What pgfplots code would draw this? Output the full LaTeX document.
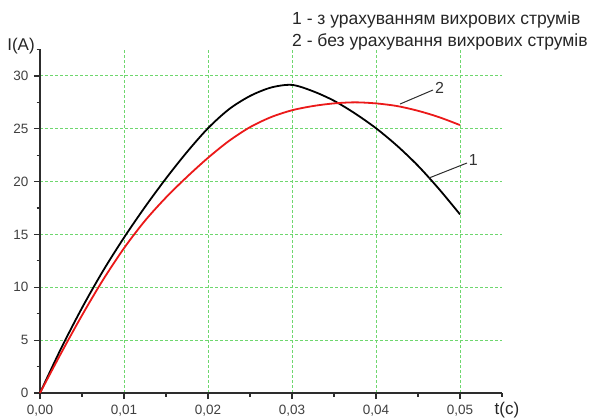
\documentclass[border=0pt]{standalone}
\usepackage{pgfplots}
\pgfplotsset{compat=1.18}
\usepackage{fontspec}
\setmainfont{Liberation Sans}
\definecolor{gridgreen}{RGB}{110,215,110}
\definecolor{curvered}{RGB}{235,25,25}
\definecolor{axisgray}{RGB}{45,45,45}
\begin{document}
\begin{tikzpicture}
\useasboundingbox (0,0) rectangle (592bp,419bp);
\begin{axis}[
  at={(40bp,26bp)}, anchor=south west,
  scale only axis, width=462bp, height=343.5bp,
  xmin=0, xmax=0.055, ymin=0, ymax=32.5,
  axis x line*=bottom, axis y line*=left,
  axis line style={-, line width=1.6bp, color=axisgray},
  xtick={0,0.01,0.02,0.03,0.04,0.05},
  minor xtick={0.005,0.015,0.025,0.035,0.045,0.055},
  ytick={0,5,10,15,20,25,30},
  minor ytick={2.5,7.5,12.5,17.5,22.5,27.5,32.5},
  tick align=outside,
  major tick length=6bp, minor tick length=3.5bp,
  every tick/.style={line width=1.2bp, color=axisgray},
  grid=major,
  major grid style={draw=gridgreen, line width=0.9bp, dash pattern=on 2.5bp off 2.5bp},
  /pgf/number format/assume math mode=true,
  tick label style={font=\fontsize{13.5bp}{16bp}\selectfont, text=black!75},
  x tick label style={yshift=-3bp, /pgf/number format/fixed, /pgf/number format/fixed zerofill, /pgf/number format/precision=2, /pgf/number format/use comma},
  y tick label style={xshift=-2bp, /pgf/number format/fixed, /pgf/number format/precision=0},
  scaled x ticks=false,
  clip=false,
]
\addplot[black, line width=1.8bp, smooth] coordinates {
(0,0) (0.0025,4.2) (0.005,8.05) (0.0075,11.55) (0.01,14.7) (0.0125,17.6)
(0.015,20.3) (0.0175,22.8) (0.02,25.05) (0.0225,26.85) (0.025,28.1)
(0.0275,28.9) (0.03,29.15) (0.0325,28.55) (0.035,27.65)
(0.0375,26.45) (0.04,25.05) (0.0425,23.4) (0.045,21.5) (0.0475,19.3) (0.05,16.9)
};
\addplot[curvered, line width=1.8bp, smooth] coordinates {
(0,0) (0.0025,3.75) (0.005,7.35) (0.0075,10.7) (0.01,13.7) (0.0125,16.3)
(0.015,18.5) (0.0175,20.45) (0.02,22.25) (0.0225,23.85) (0.025,25.15)
(0.0275,26.1) (0.03,26.75) (0.0325,27.15) (0.035,27.4) (0.0375,27.5)
(0.04,27.4) (0.0425,27.15) (0.045,26.7) (0.0475,26.1) (0.05,25.35)
};
\draw[axisgray, line width=1bp] (axis cs:0.04286,27.34) -- (axis cs:0.04679,28.67);
\node[anchor=west, inner sep=1bp, font=\fontsize{16bp}{18bp}\selectfont, text=black!80] at (axis cs:0.0469,28.9) {2};
\draw[axisgray, line width=1bp] (axis cs:0.04631,20.34) -- (axis cs:0.05083,21.76);
\node[anchor=west, inner sep=1bp, font=\fontsize{16bp}{18bp}\selectfont, text=black!80] at (axis cs:0.0509,22.0) {1};
\end{axis}
\node[font=\fontsize{17bp}{20bp}\selectfont, text=black!85] at (21bp,373bp) {I(A)};
\node[font=\fontsize{17bp}{20bp}\selectfont, text=black!85] at (507bp,9bp) {t(c)};
\node[anchor=base west, inner sep=0pt, font=\fontsize{17.5bp}{20bp}\selectfont, text=black!85] at (292bp,394bp) {1 - з урахуванням вихрових струмів};
\node[anchor=base west, inner sep=0pt, font=\fontsize{17.5bp}{20bp}\selectfont, text=black!85] at (292bp,372bp) {2 - без урахування вихрових струмів};
\end{tikzpicture}
\end{document}
